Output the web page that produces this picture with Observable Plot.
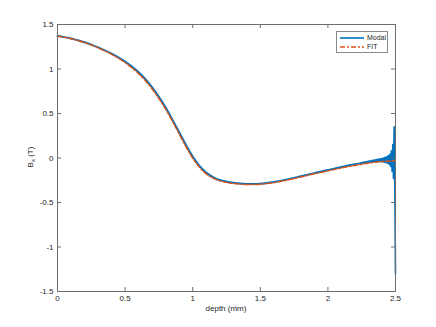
<!DOCTYPE html>
<html>
<head>
<meta charset="utf-8">
<script src="https://cdn.jsdelivr.net/npm/d3@7"></script>
<script src="https://cdn.jsdelivr.net/npm/@observablehq/plot@0.6"></script>
<style>
  html, body { margin: 0; padding: 0; background: #fff; }
  #wrap { position: relative; width: 436px; height: 327px; font-family: "Liberation Sans", Arial, sans-serif; }
  #legend { position: absolute; left: 336px; top: 31px; width: 50px; height: 20px; border: 1px solid #8a8a8a; background: #fff; font-size: 7px; color: #262626; z-index: 2; }
  #legend .row { position: absolute; left: 3px; height: 9px; display: flex; align-items: center; }
  #legend svg { display: block; }
  #legend span { margin-left: 3px; line-height: 9px; }
</style>
</head>
<body>
<div id="wrap">
  <div id="legend">
    <div class="row" style="top:1px"><svg width="24" height="6"><line x1="0" x2="24" y1="3" y2="3" stroke="#0072BD" stroke-width="1.6"/></svg><span>Modal</span></div>
    <div class="row" style="top:10px"><svg width="24" height="6"><line x1="0" x2="24" y1="3" y2="3" stroke="#D95319" stroke-width="1.4" stroke-dasharray="5,2,2,2"/></svg><span>FIT</span></div>
  </div>
</div>
<script>
// ---- data ----
const fitDepth = [0,0.05,0.1,0.15,0.2,0.25,0.3,0.35,0.4,0.45,0.5,0.55,0.6,0.65,0.7,0.75,0.8,0.85,0.9,0.95,1.0,1.05,1.1,1.15,1.2,1.25,1.3,1.4,1.5,1.6,1.7,1.8,1.9,2.0,2.1,2.2,2.3,2.4,2.5];
const fitValue = [1.37,1.357,1.341,1.321,1.297,1.27,1.238,1.204,1.165,1.122,1.072,1.014,0.947,0.869,0.776,0.669,0.548,0.413,0.271,0.128,-0.002,-0.105,-0.178,-0.226,-0.257,-0.274,-0.287,-0.298,-0.295,-0.277,-0.248,-0.213,-0.178,-0.145,-0.112,-0.083,-0.058,-0.04,-0.03];

// smooth part of the modal solution
const modalDepth = [0,0.05,0.1,0.15,0.2,0.25,0.3,0.35,0.4,0.45,0.5,0.55,0.6,0.65,0.7,0.75,0.8,0.85,0.9,0.95,1.0,1.05,1.1,1.15,1.2,1.25,1.3,1.4,1.5,1.6,1.7,1.8,1.9,2.0,2.1,2.2];
const modalValue = [1.37,1.358,1.342,1.323,1.300,1.274,1.243,1.21,1.173,1.131,1.084,1.028,0.963,0.887,0.794,0.687,0.566,0.431,0.289,0.146,0.016,-0.089,-0.164,-0.214,-0.247,-0.266,-0.279,-0.291,-0.288,-0.27,-0.24,-0.205,-0.17,-0.135,-0.1,-0.07];

// oscillating tail of the modal solution near the end of the domain
const modalTailDepth = [2.200,2.205,2.210,2.215,2.220,2.225,2.230,2.235,2.240,2.245,2.250,2.255,2.260,2.265,2.270,2.275,2.280,2.285,2.290,2.295,
  2.300,2.305,2.310,2.315,2.320,2.325,2.330,2.335,2.340,2.345,2.350,2.355,2.360,2.365,2.370,2.375,2.380,2.385,2.390,2.395,
  2.400,2.405,2.410,2.415,2.420,2.425,2.430,2.435,2.440,2.445,2.450,2.455,2.460,2.465,2.470,2.475,2.480,2.485,2.490,2.495,2.500];
const modalTailValue = [-0.068,-0.071,-0.065,-0.068,-0.062,-0.066,-0.059,-0.063,-0.056,-0.061,-0.051,-0.059,-0.048,-0.056,-0.045,-0.054,-0.042,-0.052,-0.039,-0.050,
  -0.036,-0.048,-0.033,-0.046,-0.030,-0.045,-0.027,-0.043,-0.024,-0.042,-0.021,-0.041,-0.018,-0.040,-0.015,-0.039,-0.012,-0.039,-0.009,-0.040,
  -0.005,-0.042,-0.001,-0.045,0.004,-0.049,0.010,-0.054,0.018,-0.062,0.028,-0.073,0.045,-0.095,0.080,-0.150,0.150,-0.230,0.350,-0.300,-1.300];

const xTicks = [0, 0.5, 1, 1.5, 2, 2.5];
const yTicks = [-1.5, -1, -0.5, 0, 0.5, 1, 1.5];

const fit = fitDepth.map((d, i) => ({depth: d, value: fitValue[i]}));
const modal = modalDepth.map((d, i) => ({depth: d, value: modalValue[i]}));
const modalTail = modalTailDepth.map((d, i) => ({depth: d, value: modalTailValue[i]}));

const axisColor = "#6e6e6e";
const xTickLen = 0.045;   // in y units (~4px)
const yTickLen = 0.03;    // in x units (~4px)

const chart = Plot.plot({
  width: 436,
  height: 327,
  marginLeft: 57,
  marginRight: 41,
  marginTop: 24,
  marginBottom: 36,
  style: {fontFamily: "Liberation Sans, Arial, sans-serif", fontSize: "8px", color: "#262626", background: "#fff"},
  x: {domain: [0, 2.5]},
  y: {domain: [-1.5, 1.5]},
  marks: [
    Plot.line(modal, {x: "depth", y: "value", stroke: "#0072BD", strokeWidth: 2, curve: "natural"}),
    Plot.line(modalTail, {x: "depth", y: "value", stroke: "#0072BD", strokeWidth: 1.6}),
    Plot.line(fit, {x: "depth", y: "value", stroke: "#D95319", strokeWidth: 1.5, strokeDasharray: "5,2,2,2", curve: "natural"}),
    Plot.ruleX(xTicks, {x: d => d, y1: -1.5, y2: -1.5 + xTickLen, stroke: axisColor}),
    Plot.ruleX(xTicks, {x: d => d, y1: 1.5, y2: 1.5 - xTickLen, stroke: axisColor}),
    Plot.ruleY(yTicks, {y: d => d, x1: 0, x2: yTickLen, stroke: axisColor}),
    Plot.ruleY(yTicks, {y: d => d, x1: 2.5, x2: 2.5 - yTickLen, stroke: axisColor}),
    Plot.frame({stroke: axisColor, strokeWidth: 1}),
    Plot.axisX(xTicks, {tickSize: 0, tickPadding: 4, tickFormat: d => String(d), label: null, fill: "#262626"}),
    Plot.axisY(yTicks, {tickSize: 0, tickPadding: 4, tickFormat: d => String(d), label: null, fill: "#262626"})
  ]
});

const svg = d3.select(chart);
// x label
svg.append("text")
  .attr("x", 226).attr("y", 311)
  .attr("text-anchor", "middle")
  .attr("font-size", 8).attr("fill", "#262626")
  .text("depth (mm)");
// y label with subscript
const yl = svg.append("text")
  .attr("transform", "translate(33,157) rotate(-90)")
  .attr("text-anchor", "middle")
  .attr("font-size", 8).attr("fill", "#262626");
yl.append("tspan").text("B");
yl.append("tspan").attr("font-size", 6).attr("dy", 2).text("x");
yl.append("tspan").attr("dy", -2).text(" (T)");

document.getElementById("wrap").prepend(chart);
chart.style.position = "absolute";
chart.style.left = "0";
chart.style.top = "0";
</script>
</body>
</html>
